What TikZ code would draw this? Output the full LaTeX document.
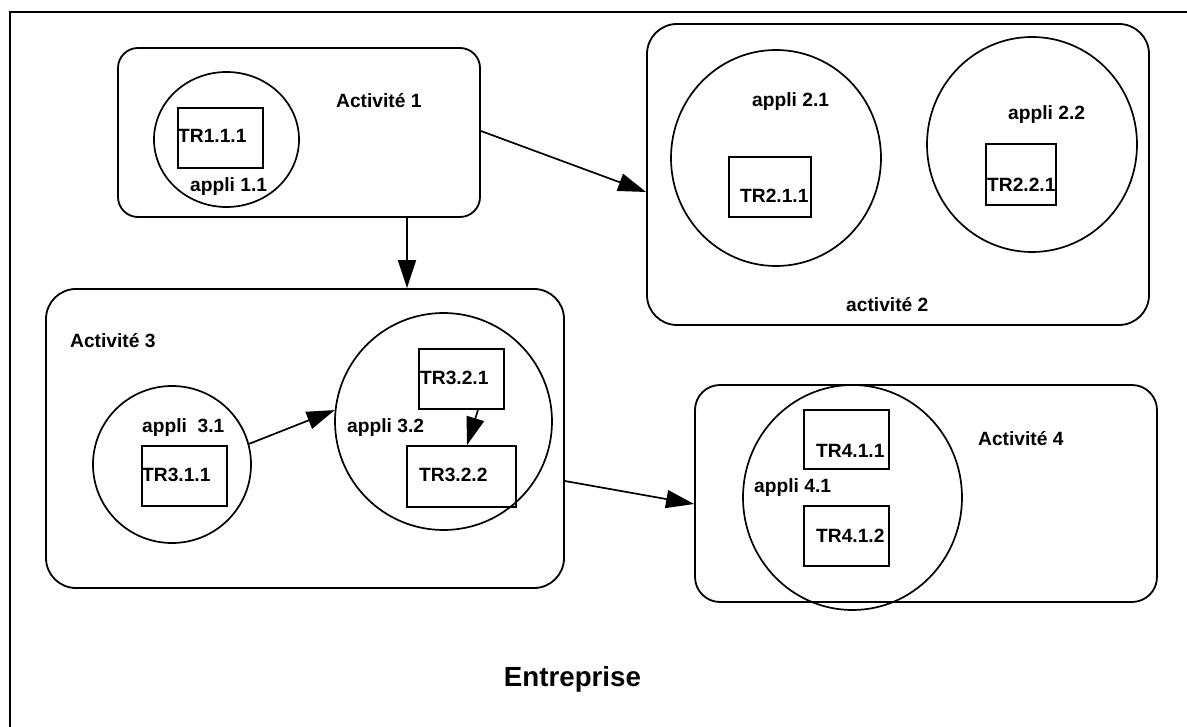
\documentclass[tikz,border=0pt]{standalone}
\usepackage{fontspec}
\setmainfont{Liberation Sans}
\usetikzlibrary{shapes.geometric,arrows.meta}

\begin{document}
\begin{tikzpicture}[x=1pt,y=-1pt,
  line join=miter,
  activity/.style={draw, line width=1.8pt, rounded corners=#1, inner sep=0pt},
  appli/.style={draw, ellipse, line width=1.7pt, inner sep=0pt},
  trbox/.style={draw, rectangle, line width=1.7pt, inner sep=0pt},
  lbl/.style={anchor=base west, inner sep=0pt, font=\bfseries\fontsize{19.2}{22}\selectfont},
  flow/.style={line width=1.7pt, -{Triangle[length=28pt,width=18pt]}}
]
\useasboundingbox (0,0) rectangle (1187,727);

% enterprise frame (open to the right and bottom)
\draw[line width=2.2pt] (10,740) -- (10,12) -- (1200,12);
\node[anchor=base, inner sep=0pt, font=\bfseries\fontsize{27.7}{32}\selectfont] (entreprise) at (572.5,686) {Entreprise};

% activity boxes
\node[activity=20pt, minimum width=362pt, minimum height=169pt] (act1) at (299,132.5) {};
\node[activity=30pt, minimum width=502pt, minimum height=301pt] (act2) at (898,174.5) {};
\node[activity=30pt, minimum width=518pt, minimum height=299pt] (act3) at (305,438.5) {};
\node[activity=25pt, minimum width=462pt, minimum height=217pt] (act4) at (926,493.5) {};

% applications
\node[appli, minimum width=145pt, minimum height=135pt] (a11) at (226.5,139.5) {};
\node[appli, minimum width=210pt, minimum height=216pt] (a21) at (776,158) {};
\node[appli, minimum width=210pt, minimum height=215pt] (a22) at (1032,144.5) {};
\node[appli, minimum width=158pt, minimum height=157pt] (a31) at (172,464.5) {};
\node[appli, minimum width=217pt, minimum height=217pt] (a32) at (443.5,421.5) {};
\node[appli, minimum width=219pt, minimum height=225pt] (a41) at (852.5,497.5) {};

% transactions
\node[trbox, minimum width=85pt, minimum height=60pt] (tr111) at (220.5,138) {};
\node[trbox, minimum width=82pt, minimum height=60pt] (tr211) at (770,187) {};
\node[trbox, minimum width=70pt, minimum height=61pt] (tr221) at (1021,174.5) {};
\node[trbox, minimum width=85pt, minimum height=60pt] (tr311) at (184.5,476) {};
\node[trbox, minimum width=85pt, minimum height=60pt] (tr321) at (461.5,379) {};
\node[trbox, minimum width=109pt, minimum height=61pt] (tr322) at (461.5,476.5) {};
\node[trbox, minimum width=85pt, minimum height=59pt] (tr411) at (846.5,439.5) {};
\node[trbox, minimum width=85pt, minimum height=60pt] (tr412) at (846.5,536) {};

% labels
\node[lbl] (l-act1) at (336,108) {Activité 1};
\node[lbl] (l-tr111) at (178,143) {TR1.1.1};
\node[lbl] (l-a11) at (190,192) {appli 1.1};
\node[lbl] (l-a21) at (752,107) {appli 2.1};
\node[lbl] (l-tr211) at (740,203) {TR2.1.1};
\node[lbl] (l-a22) at (1008,120) {appli 2.2};
\node[lbl] (l-tr221) at (987,192) {TR2.2.1};
\node[lbl] (l-act2) at (846,312) {activité 2};
\node[lbl] (l-act3) at (70,348) {Activité 3};
\node[lbl] (l-a31) at (142,432) {appli~~3.1};
\node[lbl] (l-tr311) at (142,481) {TR3.1.1};
\node[lbl] (l-a32) at (347,433) {appli 3.2};
\node[lbl] (l-tr321) at (420,385) {TR3.2.1};
\node[lbl] (l-tr322) at (419,481) {TR3.2.2};
\node[lbl] (l-a41) at (754,493) {appli 4.1};
\node[lbl] (l-tr411) at (816,457) {TR4.1.1};
\node[lbl] (l-tr412) at (816,542) {TR4.1.2};
\node[lbl] (l-act4) at (978,446) {Activité 4};

% flows
\draw[flow] ([yshift=1.5pt]act1.east) -- ([yshift=-17.5pt]act2.west);
\draw[flow] ([xshift=108pt]act1.south) -- ([xshift=102pt]act3.north);
\draw[flow] (a31.15) -- (a32.174);
\draw[flow] ([xshift=16.5pt]tr321.south) -- ([xshift=5.5pt]tr322.north);
\draw[flow] ([yshift=-42.5pt]act3.east) -- ([yshift=-10.5pt]act4.west);
\end{tikzpicture}
\end{document}
